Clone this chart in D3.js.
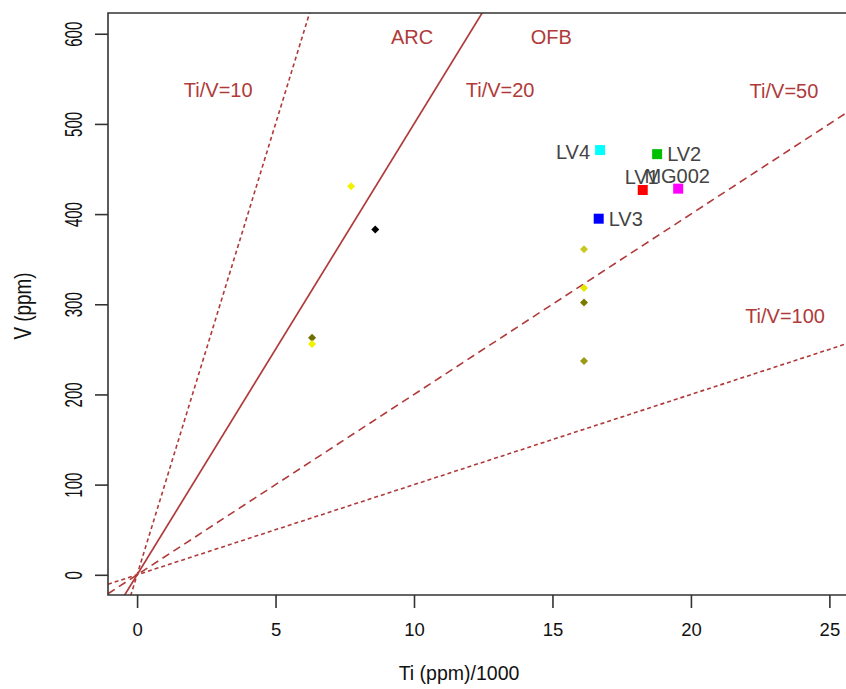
<!DOCTYPE html>
<html><head><meta charset="utf-8">
<script src="https://cdn.jsdelivr.net/npm/d3@7"></script>
<style>body{margin:0;background:#fff;}svg{display:block;}text{font-family:Arial,"Liberation Sans",sans-serif;}</style>
</head><body>
<svg id="c" width="846" height="689"></svg>
<script>
// ---- data ----
const sampleNames = ["LV4", "LV2", "LV1", "MG002", "LV3"];
const sampleTi = [16.72, 18.78, 18.26, 19.54, 16.67];
const sampleV = [471, 466.5, 426.7, 428.2, 394.9];
const sampleColors = ["#00ffff", "#00c000", "#ff0000", "#ff00ff", "#0000ff"];
const sampleLabelPos = ["left", "right", "above", "above", "right"];

const refTi = [7.73, 8.6, 6.32, 6.32, 16.14, 16.14, 16.14, 16.14];
const refV = [431, 383, 263, 256, 361, 318, 302, 237];
const refColors = ["#f2f200", "#000000", "#6e6e00", "#f2f200", "#c8c81e", "#e6e600", "#7a7a00", "#9a9a14"];

const ratioValues = [10, 20, 50, 100];
const ratioDash = ["4,3", null, "8,5", "4,3"];
const fieldLabels = ["Ti/V=10", "Ti/V=20", "Ti/V=50", "Ti/V=100", "ARC", "OFB"];
const fieldLabelTi = [2.93, 13.11, 23.36, 23.4, 9.93, 14.96];
const fieldLabelV = [538, 538, 536, 287, 596, 596];

const xTicks = [0, 5, 10, 15, 20, 25];
const yTicks = [0, 100, 200, 300, 400, 500, 600];

// ---- layout ----
const svg = d3.select("#c");
const mLeft = 108, mTop = 13, mBottom = 595;
const x = d3.scaleLinear().domain([-1.05, 25.6]).range([mLeft, 846]);
const y = d3.scaleLinear().domain([-22.4, 623]).range([mBottom, mTop]);
const lineCol = "#b03a3a";

svg.append("clipPath").attr("id", "clip").append("rect")
  .attr("x", mLeft).attr("y", mTop).attr("width", 846 - mLeft).attr("height", mBottom - mTop);

const g = svg.append("g").attr("clip-path", "url(#clip)");
const [x0, x1] = x.domain();
ratioValues.forEach((r, i) => {
  const k = 1000 / r;
  g.append("line")
    .attr("x1", x(x0)).attr("y1", y(k * x0))
    .attr("x2", x(x1)).attr("y2", y(k * x1))
    .attr("stroke", lineCol).attr("stroke-width", i === 1 ? 1.7 : 1.6)
    .attr("stroke-dasharray", ratioDash[i]);
});

// field labels
fieldLabels.forEach((t, i) => {
  svg.append("text").attr("x", x(fieldLabelTi[i])).attr("y", y(fieldLabelV[i]))
    .attr("text-anchor", "middle").attr("dominant-baseline", "central")
    .attr("font-size", 20).attr("fill", lineCol).text(t);
});

// reference points (diamonds)
const diamond = d3.symbol().type(d3.symbolSquare).size(32);
refTi.forEach((t, i) => {
  svg.append("path").attr("d", diamond)
    .attr("transform", `translate(${x(t)},${y(refV[i])}) rotate(45)`)
    .attr("fill", refColors[i]);
});

// samples
sampleTi.forEach((t, i) => {
  const px = x(t), py = y(sampleV[i]);
  svg.append("rect").attr("x", px - 5).attr("y", py - 5).attr("width", 10).attr("height", 10)
    .attr("fill", sampleColors[i]);
  const lab = svg.append("text").attr("font-size", 20).attr("fill", "#444")
    .attr("dominant-baseline", "central").text(sampleNames[i]);
  const p = sampleLabelPos[i];
  if (p === "left") lab.attr("x", px - 10).attr("y", py + 2).attr("text-anchor", "end");
  else if (p === "right") lab.attr("x", px + 10).attr("y", py).attr("text-anchor", "start");
  else lab.attr("x", px - 1).attr("y", py - 13).attr("text-anchor", "middle");
});

// frame (right side is beyond view)
svg.append("path")
  .attr("d", `M846,${mTop}H${mLeft}V${mBottom}H846`)
  .attr("fill", "none").attr("stroke", "#333").attr("stroke-width", 1.6);

// axes
const xAxis = svg.append("g").attr("transform", `translate(0,${mBottom})`)
  .call(d3.axisBottom(x).tickValues(xTicks).tickSize(13).tickPadding(15).tickFormat(d3.format("d")));
const yAxis = svg.append("g").attr("transform", `translate(${mLeft},0)`)
  .call(d3.axisLeft(y).tickValues(yTicks).tickSize(13).tickPadding(6).tickFormat(d3.format("d")));
[xAxis, yAxis].forEach(a => {
  a.select(".domain").remove();
  a.selectAll("line").attr("stroke", "#333").attr("stroke-width", 1.6);
  a.selectAll("text").attr("fill", "#111").attr("font-family", "Arial, 'Liberation Sans', sans-serif");
});
xAxis.selectAll("text").attr("font-size", 18.5);
yAxis.selectAll(".tick text")
  .attr("x", null).attr("dy", null).attr("text-anchor", "middle")
  .attr("font-size", 15)
  .attr("transform", "translate(-34,0) rotate(-90) scale(1,1.55)").attr("dominant-baseline", "central");

// axis titles
svg.append("text").attr("x", 459).attr("y", 680).attr("text-anchor", "middle")
  .attr("font-size", 19.5).attr("fill", "#111").text("Ti (ppm)/1000");
svg.append("text").attr("transform", "translate(23,306) rotate(-90) scale(1,1.3)").attr("text-anchor", "middle")
  .attr("dominant-baseline", "central").attr("font-size", 18.8).attr("fill", "#111").text("V (ppm)");
</script>
</body></html>
